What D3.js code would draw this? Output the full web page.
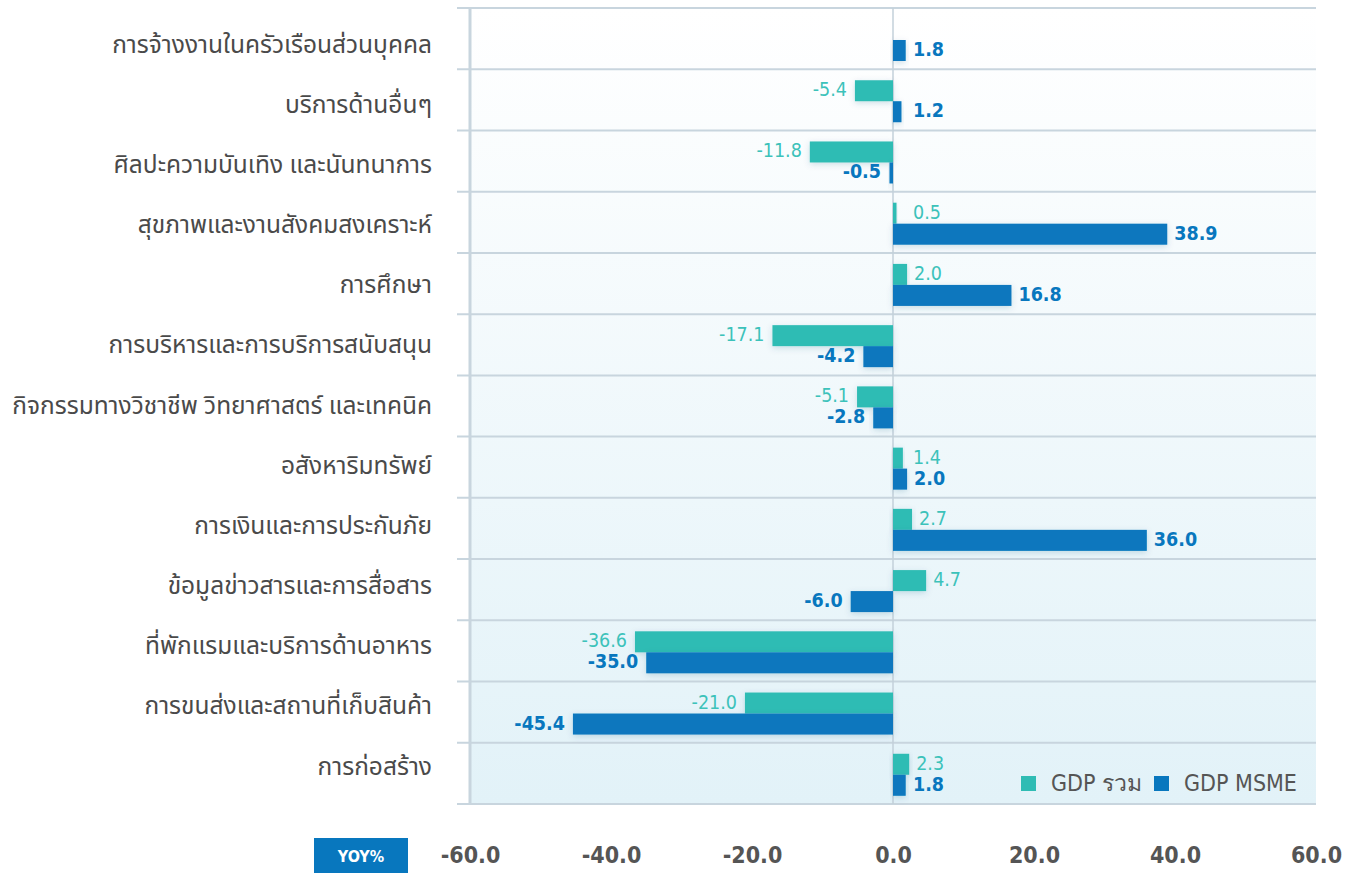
<!DOCTYPE html>
<html>
<head>
<meta charset="utf-8">
<script src="https://cdn.jsdelivr.net/npm/d3@7"></script>
<style>
  html, body { margin: 0; padding: 0; background: #fff; }
  svg { display: block; }
  .cat { font-family: "Noto Sans", "Noto Sans Thai", sans-serif; font-size: 24.5px; fill: #4a4a4a; }
  .num { font-family: "DejaVu Sans Condensed", "DejaVu Sans", sans-serif; font-stretch: condensed; }
</style>
</head>
<body>
<svg id="chart" width="1359" height="873"></svg>
<script>
// categories, top to bottom
const categories = [
  'การจ้างงานในครัวเรือนส่วนบุคคล',
  'บริการด้านอื่นๆ',
  'ศิลปะความบันเทิง และนันทนาการ',
  'สุขภาพและงานสังคมสงเคราะห์',
  'การศึกษา',
  'การบริหารและการบริการสนับสนุน',
  'กิจกรรมทางวิชาชีพ วิทยาศาสตร์ และเทคนิค',
  'อสังหาริมทรัพย์',
  'การเงินและการประกันภัย',
  'ข้อมูลข่าวสารและการสื่อสาร',
  'ที่พักแรมและบริการด้านอาหาร',
  'การขนส่งและสถานที่เก็บสินค้า',
  'การก่อสร้าง'
];
const gdpTotal = [null, -5.4, -11.8, 0.5, 2.0, -17.1, -5.1, 1.4, 2.7, 4.7, -36.6, -21.0, 2.3];
const gdpMsme  = [1.8, 1.2, -0.5, 38.9, 16.8, -4.2, -2.8, 2.0, 36.0, -6.0, -35.0, -45.4, 1.8];
const tickValues = [-60, -40, -20, 0, 20, 40, 60];
const seriesNames = ['GDP รวม', 'GDP MSME'];

const colTotal = '#2fbcb4';
const colMsme = '#0877be';

// plain hyphen instead of unicode minus
const fmt = v => d3.format('.1f')(v).replace('\u2212', '-');

const svg = d3.select('#chart');
const defs = svg.append('defs');

const grad = defs.append('linearGradient')
  .attr('id', 'bg').attr('x1', 0).attr('y1', 0).attr('x2', 0).attr('y2', 1);
grad.append('stop').attr('offset', '0%').attr('stop-color', '#ffffff');
grad.append('stop').attr('offset', '100%').attr('stop-color', '#e2f2f8');

const shadow = defs.append('filter').attr('id', 'shadow')
  .attr('x', '-20%').attr('y', '-40%').attr('width', '140%').attr('height', '200%');
shadow.append('feDropShadow')
  .attr('dx', 0).attr('dy', 2).attr('stdDeviation', 3)
  .attr('flood-color', '#0a4f7a').attr('flood-opacity', 0.18);

const x = d3.scaleLinear().domain([-60, 60]).range([470, 1316]);
const y = d3.scaleBand().domain(categories).range([8, 804]);
const sub = d3.scaleBand().domain(['total', 'msme']).range([11, 53]);
// category labels sit on their own, slightly tighter spacing
const yLabel = d3.scalePoint().domain(categories).range([46, 768]);

// plot background
svg.append('rect')
  .attr('x', x(-60)).attr('y', y.range()[0])
  .attr('width', x(60) - x(-60)).attr('height', y.range()[1] - y.range()[0])
  .attr('fill', 'url(#bg)');

// horizontal grid lines
const lineYs = categories.map(c => y(c)).concat([y.range()[1]]);
svg.append('g').selectAll('line')
  .data(lineYs).enter().append('line')
  .attr('x1', 457).attr('x2', x(60))
  .attr('y1', d => d).attr('y2', d => d)
  .attr('stroke', '#c8d5de').attr('stroke-width', 2);

// left thick axis line
svg.append('line')
  .attr('x1', x(-60)).attr('x2', x(-60))
  .attr('y1', y.range()[0]).attr('y2', y.range()[1])
  .attr('stroke', '#c8d5de').attr('stroke-width', 3);

// zero line
svg.append('line')
  .attr('x1', x(0)).attr('x2', x(0))
  .attr('y1', y.range()[0]).attr('y2', y.range()[1])
  .attr('stroke', '#c3d0da').attr('stroke-width', 1.5);

// category labels
svg.append('g').selectAll('text')
  .data(categories).enter().append('text')
  .attr('class', 'cat')
  .attr('x', 432)
  .attr('y', d => yLabel(d))
  .attr('text-anchor', 'end')
  .attr('dominant-baseline', 'middle')
  .text(d => d);

const rows = categories.map((c, i) => ({ cat: c, total: gdpTotal[i], msme: gdpMsme[i] }));

function drawSeries(key, color, labelWeight, labelColor) {
  const data = rows.filter(r => r[key] !== null);
  const g = svg.append('g');
  g.selectAll('rect')
    .data(data).enter().append('rect')
    .attr('x', d => Math.min(x(0), x(d[key])))
    .attr('y', d => y(d.cat) + sub(key))
    .attr('width', d => Math.max(2, Math.abs(x(d[key]) - x(0))))
    .attr('height', sub.bandwidth())
    .attr('fill', color)
    .attr('filter', 'url(#shadow)');

  g.selectAll('text')
    .data(data).enter().append('text')
    .attr('class', 'num')
    .attr('x', d => d[key] >= 0
      ? Math.max(x(d[key]), x(0) + 13) + 7
      : Math.min(x(d[key]), x(0) - 4) - 8)
    .attr('y', d => y(d.cat) + sub(key) + sub.bandwidth() / 2)
    .attr('dominant-baseline', 'middle')
    .attr('text-anchor', d => d[key] >= 0 ? 'start' : 'end')
    .attr('font-size', 19.5)
    .attr('font-weight', labelWeight)
    .attr('fill', labelColor)
    .text(d => fmt(d[key]));
}
drawSeries('total', colTotal, 'normal', '#3cc2ba');
drawSeries('msme', colMsme, 'bold', colMsme);

// x axis tick labels
const axis = svg.append('g')
  .attr('transform', 'translate(0,844)')
  .call(d3.axisBottom(x).tickValues(tickValues).tickFormat(fmt).tickSize(0));
axis.select('.domain').remove();
axis.selectAll('text')
  .attr('class', 'num')
  .attr('font-size', 23)
  .attr('font-weight', 'bold')
  .attr('fill', '#555');

// YOY% box
svg.append('rect')
  .attr('x', 314).attr('y', 838).attr('width', 94).attr('height', 35)
  .attr('fill', colMsme);
svg.append('text')
  .attr('class', 'num')
  .attr('x', 361).attr('y', 857)
  .attr('text-anchor', 'middle').attr('dominant-baseline', 'middle')
  .attr('font-size', 16).attr('font-weight', 'bold').attr('fill', '#fff')
  .text('YOY%');

// legend
const legend = svg.append('g').attr('transform', 'translate(1021,776)');
const legendItems = [
  { name: seriesNames[0], color: colTotal, dx: 0 },
  { name: seriesNames[1], color: colMsme, dx: 133 }
];
const li = legend.selectAll('g').data(legendItems).enter().append('g')
  .attr('transform', d => `translate(${d.dx},0)`);
li.append('rect').attr('width', 15).attr('height', 15).attr('fill', d => d.color);
li.append('text')
  .attr('x', 30).attr('y', 8)
  .attr('dominant-baseline', 'middle')
  .attr('font-family', '"DejaVu Sans Condensed", "Noto Sans", sans-serif')
  .attr('font-stretch', 'condensed')
  .attr('font-size', 23).attr('fill', '#555')
  .text(d => d.name);
</script>
</body>
</html>
